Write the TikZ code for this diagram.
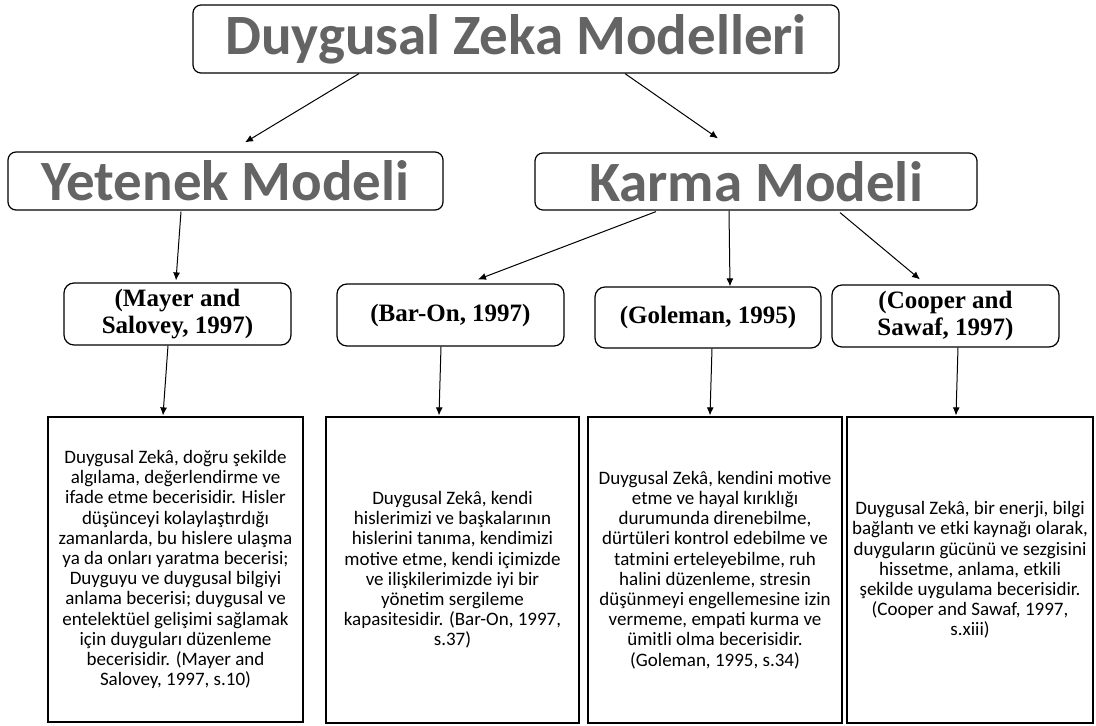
\documentclass[tikz,border=0pt]{standalone}
\usepackage{fontspec}
\setmainfont{Liberation Serif}
\newfontfamily\calib{Carlito}
\usetikzlibrary{arrows.meta}
\definecolor{headgray}{RGB}{100,100,100}
\begin{document}
\begin{tikzpicture}[x=1pt,y=-1pt,
  head/.style={draw,rounded corners=8pt,line width=1.2pt,text=headgray,
    font=\calib\bfseries\fontsize{57}{60}\selectfont},
  cite/.style={draw,rounded corners=10pt,line width=1.2pt,align=center,
    font=\bfseries\fontsize{25}{27}\selectfont},
  info/.style={draw,line width=1.2pt,align=center,
    font=\calib\fontsize{19}{20.2}\selectfont},
  arr/.style={draw,line width=1pt,->,>={Latex[length=8pt,width=7pt]}}]
\useasboundingbox (0,0) rectangle (1096,726);

\node[head, minimum width=646pt, minimum height=68pt] (dzm) at (516,39) {Duygusal Zeka Modelleri};
\node[head, minimum width=435pt, minimum height=58pt] (yetenek) at (225.5,181) {Yetenek Modeli};
\node[head, minimum width=442pt, minimum height=57pt] (karma) at (756,181.5) {Karma Modeli};

\node[cite, minimum width=227pt, minimum height=62pt] (mayer) at (177.5,314) {(Mayer and\\Salovey, 1997)};
\node[cite, minimum width=227pt, minimum height=62pt] (baron) at (450.5,315) {(Bar-On, 1997)};
\node[cite, minimum width=226pt, minimum height=61pt] (goleman) at (708,317.5) {(Goleman, 1995)};
\node[cite, minimum width=227pt, minimum height=62pt] (cooper) at (945.5,316) {(Cooper and\\Sawaf, 1997)};

\node[info, minimum width=255pt, minimum height=305pt] (tmayer) at (175.5,569.5) {Duygusal Zekâ, doğru şekilde\\algılama, değerlendirme ve\\ifade etme becerisidir. Hisler\\düşünceyi kolaylaştırdığı\\zamanlarda, bu hislere ulaşma\\ya da onları yaratma becerisi;\\Duyguyu ve duygusal bilgiyi\\anlama becerisi; duygusal ve\\entelektüel gelişimi sağlamak\\için duyguları düzenleme\\becerisidir. (Mayer and\\Salovey, 1997, s.10)};
\node[info, minimum width=253pt, minimum height=306pt] (tbaron) at (452.5,570) {Duygusal Zekâ, kendi\\hislerimizi ve başkalarının\\hislerini tanıma, kendimizi\\motive etme, kendi içimizde\\ve ilişkilerimizde iyi bir\\yönetim sergileme\\kapasitesidir. (Bar-On, 1997,\\s.37)};
\node[info, minimum width=254pt, minimum height=306pt] (tgoleman) at (715,570) {Duygusal Zekâ, kendini motive\\etme ve hayal kırıklığı\\durumunda direnebilme,\\dürtüleri kontrol edebilme ve\\tatmini erteleyebilme, ruh\\halini düzenleme, stresin\\düşünmeyi engellemesine izin\\vermeme, empati kurma ve\\ümitli olma becerisidir.\\(Goleman, 1995, s.34)};
\node[info, minimum width=246pt, minimum height=306pt] (tcooper) at (970,570) {Duygusal Zekâ, bir enerji, bilgi\\bağlantı ve etki kaynağı olarak,\\duyguların gücünü ve sezgisini\\hissetme, anlama, etkili\\şekilde uygulama becerisidir.\\(Cooper and Sawaf, 1997,\\s.xiii)};

\path[arr] ([xshift=-157pt]dzm.south) -- ([xshift=19.5pt,yshift=9pt]yetenek.north);
\path[arr] ([xshift=109pt]dzm.south) -- ([xshift=-38pt,yshift=14pt]karma.north);
\path[arr] ([xshift=-44.5pt,yshift=-1pt]yetenek.south) -- ([xshift=-1.5pt,yshift=2pt]mayer.north);
\path[arr] ([xshift=-100pt,yshift=-1pt]karma.south) -- ([xshift=27.5pt,yshift=4pt]baron.north);
\path[arr] ([xshift=-27pt]karma.south) -- ([xshift=22pt]goleman.north);
\path[arr] ([xshift=84pt,yshift=-2pt]karma.south) -- ([xshift=-25.5pt,yshift=5pt]cooper.north);
\path[arr] ([xshift=-9.5pt]mayer.south) -- ([xshift=-12.5pt,yshift=1pt]tmayer.north);
\path[arr] ([xshift=-9.5pt]baron.south) -- ([xshift=-13.5pt,yshift=1pt]tbaron.north);
\path[arr] ([xshift=4pt]goleman.south) -- ([xshift=-5pt,yshift=1pt]tgoleman.north);
\path[arr] ([xshift=12.5pt]cooper.south) -- ([xshift=-14pt,yshift=1pt]tcooper.north);
\end{tikzpicture}
\end{document}
